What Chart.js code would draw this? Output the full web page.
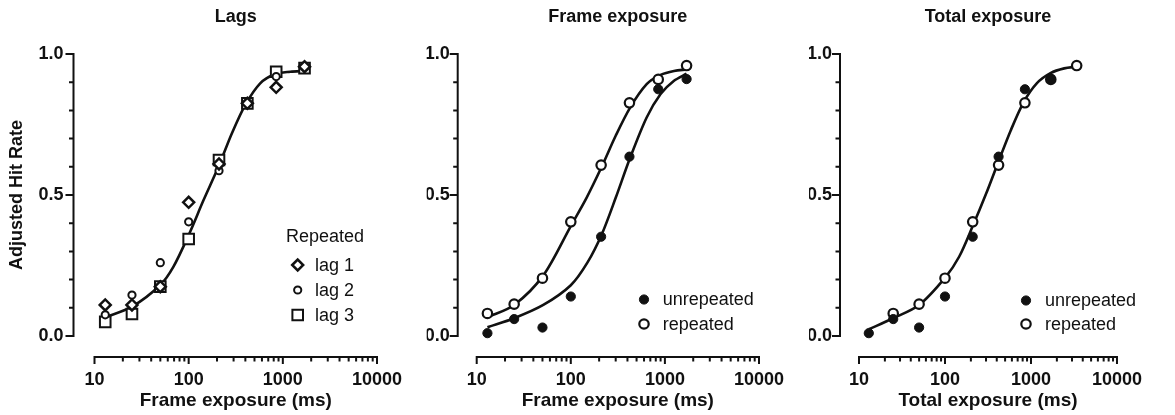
<!DOCTYPE html>
<html>
<head>
<meta charset="utf-8">
<script src="https://cdn.jsdelivr.net/npm/chart.js@4.4.0/dist/chart.umd.min.js"></script>
<style>
  body { margin: 0; background: #fff; }
  #wrap { position: relative; width: 1175px; height: 415px; }
  #wrap canvas { position: absolute; left: 0; top: 0; }
</style>
</head>
<body>
<div id="wrap">
  <canvas id="lagsChart" width="1175" height="415"></canvas>
  <canvas id="frameChart" width="1175" height="415"></canvas>
  <canvas id="totalChart" width="1175" height="415"></canvas>
</div>
<script>
// Exposure durations (ms)
const frameExposure = [13, 25, 50, 100, 210, 420, 850, 1700];
const totalRepeated = [25, 50, 100, 210, 420, 850, 1700, 3400];

// Panel 1 - lags (repeated items)
const lag1 = [0.11, 0.11, 0.175, 0.474, 0.61, 0.825, 0.882, 0.955];
const lag2 = [0.075, 0.145, 0.26, 0.405, 0.586, 0.825, 0.92, 0.955];
const lag3 = [0.05, 0.078, 0.175, 0.344, 0.624, 0.825, 0.937, 0.95];
const lagFitX = [13, 25, 50, 69, 100, 144, 207, 288, 398, 575, 832, 1200, 1700];
const lagFitY = [0.066, 0.104, 0.181, 0.246, 0.358, 0.482, 0.60, 0.719, 0.819, 0.896, 0.929, 0.937, 0.94];

// Panels 2 and 3 - unrepeated vs repeated
const unrepeated = [0.01, 0.06, 0.03, 0.14, 0.352, 0.636, 0.875, 0.911];
const repeated = [0.08, 0.113, 0.205, 0.405, 0.606, 0.827, 0.91, 0.959];
const repFitX = [13, 25, 51, 100, 147, 213, 300, 427, 640, 900, 1250, 1700];
const repFitY = [0.066, 0.11, 0.215, 0.39, 0.49, 0.60, 0.71, 0.81, 0.893, 0.926, 0.94, 0.945];
const unrepFitX = [13, 25, 51, 100, 150, 213, 300, 427, 640, 900, 1250, 1700];
const unrepFitY = [0.031, 0.063, 0.11, 0.18, 0.26, 0.36, 0.49, 0.632, 0.775, 0.858, 0.905, 0.93];
const totalFitX = [13, 25, 50, 101, 146, 209, 302, 418, 583, 828, 1167, 1686, 2433, 3400];
const totalFitY = [0.024, 0.063, 0.11, 0.208, 0.281, 0.388, 0.506, 0.618, 0.73, 0.831, 0.896, 0.932, 0.949, 0.955];

// Axis ticks
const xTickLabels = [10, 100, 1000, 10000];
const yTickLabels = [0, 0.5, 1];

const INK = '#111';
const FONT = 'Liberation Sans, Arial, Helvetica, sans-serif';
Chart.defaults.font.family = FONT;
Chart.defaults.color = INK;

const pts = (xs, ys) => xs.map((x, i) => ({ x: x, y: ys[i] }));

function markers(label, xs, ys, style) {
    return Object.assign({
        label: label,
        data: pts(xs, ys),
        showLine: false,
        clip: false,
        pointBorderColor: INK
    }, style);
}

function fitLine(xs, ys) {
    return {
        data: pts(xs, ys),
        showLine: true,
        clip: false,
        borderColor: INK,
        borderWidth: 2.6,
        pointRadius: 0,
        tension: 0.3,
        fill: false
    };
}

const styles = {
    lag1: { pointStyle: 'rectRot', pointRadius: 5.5, pointBorderWidth: 2.5, pointBackgroundColor: '#fff' },
    lag2: { pointStyle: 'circle', pointRadius: 3.6, pointBorderWidth: 2, pointBackgroundColor: '#fff' },
    lag3: { pointStyle: 'rect', pointRadius: 7.5, pointBorderWidth: 2, pointBackgroundColor: '#fff' },
    filled: { pointStyle: 'circle', pointRadius: 4.6, pointBorderWidth: 1, pointBackgroundColor: INK },
    open: { pointStyle: 'circle', pointRadius: 4.7, pointBorderWidth: 2.2, pointBackgroundColor: '#fff' }
};

// Prism style axes: y line left of the plot, x line offset below it
const prismAxes = {
    id: 'prismAxes',
    beforeDatasetsDraw(chart, args, o) {
        const { ctx, chartArea } = chart;
        const xs = chart.scales.x, ys = chart.scales.y;
        const ax = chartArea.left - o.yGap;
        const ay = chartArea.bottom + o.xGap;
        ctx.save();
        ctx.strokeStyle = INK;
        ctx.lineWidth = 2;
        ctx.beginPath();
        ctx.moveTo(ax, ys.getPixelForValue(0) + 1);
        ctx.lineTo(ax, ys.getPixelForValue(1) - 1);
        for (let i = 0; i <= 10; i++) {
            const py = ys.getPixelForValue(i / 10);
            ctx.moveTo(ax + 1, py);
            ctx.lineTo(ax - (i % 5 === 0 ? 8 : 4.5), py);
        }
        ctx.moveTo(xs.getPixelForValue(10) - 1, ay);
        ctx.lineTo(xs.getPixelForValue(10000) + 1, ay);
        xTickLabels.forEach(d => {
            const px = xs.getPixelForValue(d);
            ctx.moveTo(px, ay - 1);
            ctx.lineTo(px, ay + 7);
            if (d < 10000) {
                for (let m = 2; m <= 9; m++) {
                    const pm = xs.getPixelForValue(d * m);
                    ctx.moveTo(pm, ay);
                    ctx.lineTo(pm, ay + 4.5);
                }
            }
        });
        ctx.stroke();
        ctx.restore();
    }
};

// Legend placed inside the plot, like the original figure
const markerLegend = {
    id: 'markerLegend',
    afterDraw(chart, args, o) {
        if (!o || !o.rows) return;
        const ctx = chart.ctx;
        ctx.save();
        ctx.font = '18px ' + FONT;
        ctx.fillStyle = INK;
        ctx.textBaseline = 'middle';
        ctx.textAlign = 'left';
        if (o.title) ctx.fillText(o.title, o.titleX, o.titleY);
        o.items.forEach((idx, i) => {
            const ds = chart.data.datasets[idx];
            const y = o.rows[i];
            ctx.save();
            ctx.fillStyle = ds.pointBackgroundColor;
            ctx.strokeStyle = ds.pointBorderColor;
            ctx.lineWidth = ds.pointBorderWidth;
            Chart.helpers.drawPoint(ctx, {
                pointStyle: ds.pointStyle, radius: ds.pointRadius,
                borderWidth: ds.pointBorderWidth, rotation: 0
            }, o.markerX, y);
            ctx.restore();
            ctx.fillText(ds.label, o.textX, y + 1);
        });
        ctx.restore();
    }
};

function makePanel(canvasId, p) {
    return new Chart(document.getElementById(canvasId), {
        type: 'scatter',
        data: { datasets: p.datasets },
        options: {
            responsive: false,
            animation: false,
            devicePixelRatio: 1,
            events: [],
            layout: { padding: { left: p.padLeft, right: p.padRight, top: 0, bottom: 0 } },
            plugins: {
                legend: { display: false },
                tooltip: { enabled: false },
                title: {
                    display: true, text: p.title, fullSize: false, color: INK,
                    font: { size: 18, weight: 'bold' },
                    padding: { top: 6, bottom: 26.4 }
                },
                prismAxes: { yGap: p.yGap, xGap: 21 },
                markerLegend: p.legend
            },
            scales: {
                x: {
                    type: 'logarithmic',
                    min: 10, max: 10000, bounds: 'data',
                    grid: { display: false, drawTicks: false },
                    border: { display: false },
                    afterBuildTicks: s => { s.ticks = xTickLabels.map(v => ({ value: v })); },
                    afterFit: s => { s.height = 79; },
                    ticks: {
                        autoSkip: false, maxRotation: 0, padding: 33, color: INK,
                        font: { size: 18, weight: 'bold' },
                        callback: v => String(v)
                    },
                    title: {
                        display: true, text: p.xTitle, color: INK,
                        font: { size: 19, weight: 'bold' },
                        padding: { top: 0, bottom: 3 }
                    }
                },
                y: {
                    min: 0, max: 1,
                    grid: { display: false, drawTicks: false },
                    border: { display: false },
                    afterBuildTicks: s => { s.ticks = yTickLabels.map(v => ({ value: v })); },
                    afterFit: s => { s.width = p.yWidth; },
                    ticks: {
                        padding: p.yPad, color: INK,
                        font: { size: 18, weight: 'bold' },
                        callback: v => v.toFixed(1)
                    },
                    title: {
                        display: !!p.yTitle, text: p.yTitle || '', color: INK,
                        font: { size: 18, weight: 'bold' },
                        padding: { top: 6, bottom: 0 }
                    }
                }
            }
        },
        plugins: [prismAxes, markerLegend]
    });
}

makePanel('lagsChart', {
    title: 'Lags',
    xTitle: 'Frame exposure (ms)',
    yTitle: 'Adjusted Hit Rate',
    padLeft: 0, yWidth: 94.5, padRight: 1175 - 377, yGap: 21, yPad: 31,
    datasets: [
        markers('lag 1', frameExposure, lag1, styles.lag1),
        markers('lag 2', frameExposure, lag2, styles.lag2),
        markers('lag 3', frameExposure, lag3, styles.lag3),
        fitLine(lagFitX, lagFitY)
    ],
    legend: { title: 'Repeated', titleX: 286, titleY: 237, markerX: 297.7, textX: 315, rows: [265, 290, 315], items: [0, 1, 2] }
});

makePanel('frameChart', {
    title: 'Frame exposure',
    xTitle: 'Frame exposure (ms)',
    padLeft: 426.7, yWidth: 50, padRight: 1175 - 759, yGap: 19, yPad: 27,
    datasets: [
        markers('unrepeated', frameExposure, unrepeated, styles.filled),
        markers('repeated', frameExposure, repeated, styles.open),
        fitLine(repFitX, repFitY),
        fitLine(unrepFitX, unrepFitY)
    ],
    legend: { markerX: 644, textX: 662.7, rows: [299.5, 324], items: [0, 1] }
});

makePanel('totalChart', {
    title: 'Total exposure',
    xTitle: 'Total exposure (ms)',
    padLeft: 809, yWidth: 50, padRight: 1175 - 1141, yGap: 19, yPad: 27,
    datasets: [
        markers('unrepeated', frameExposure, unrepeated, styles.filled),
        markers('repeated', totalRepeated, repeated, styles.open),
        fitLine(totalFitX, totalFitY)
    ],
    legend: { markerX: 1026, textX: 1045, rows: [300.5, 324], items: [0, 1] }
});
</script>
</body>
</html>
